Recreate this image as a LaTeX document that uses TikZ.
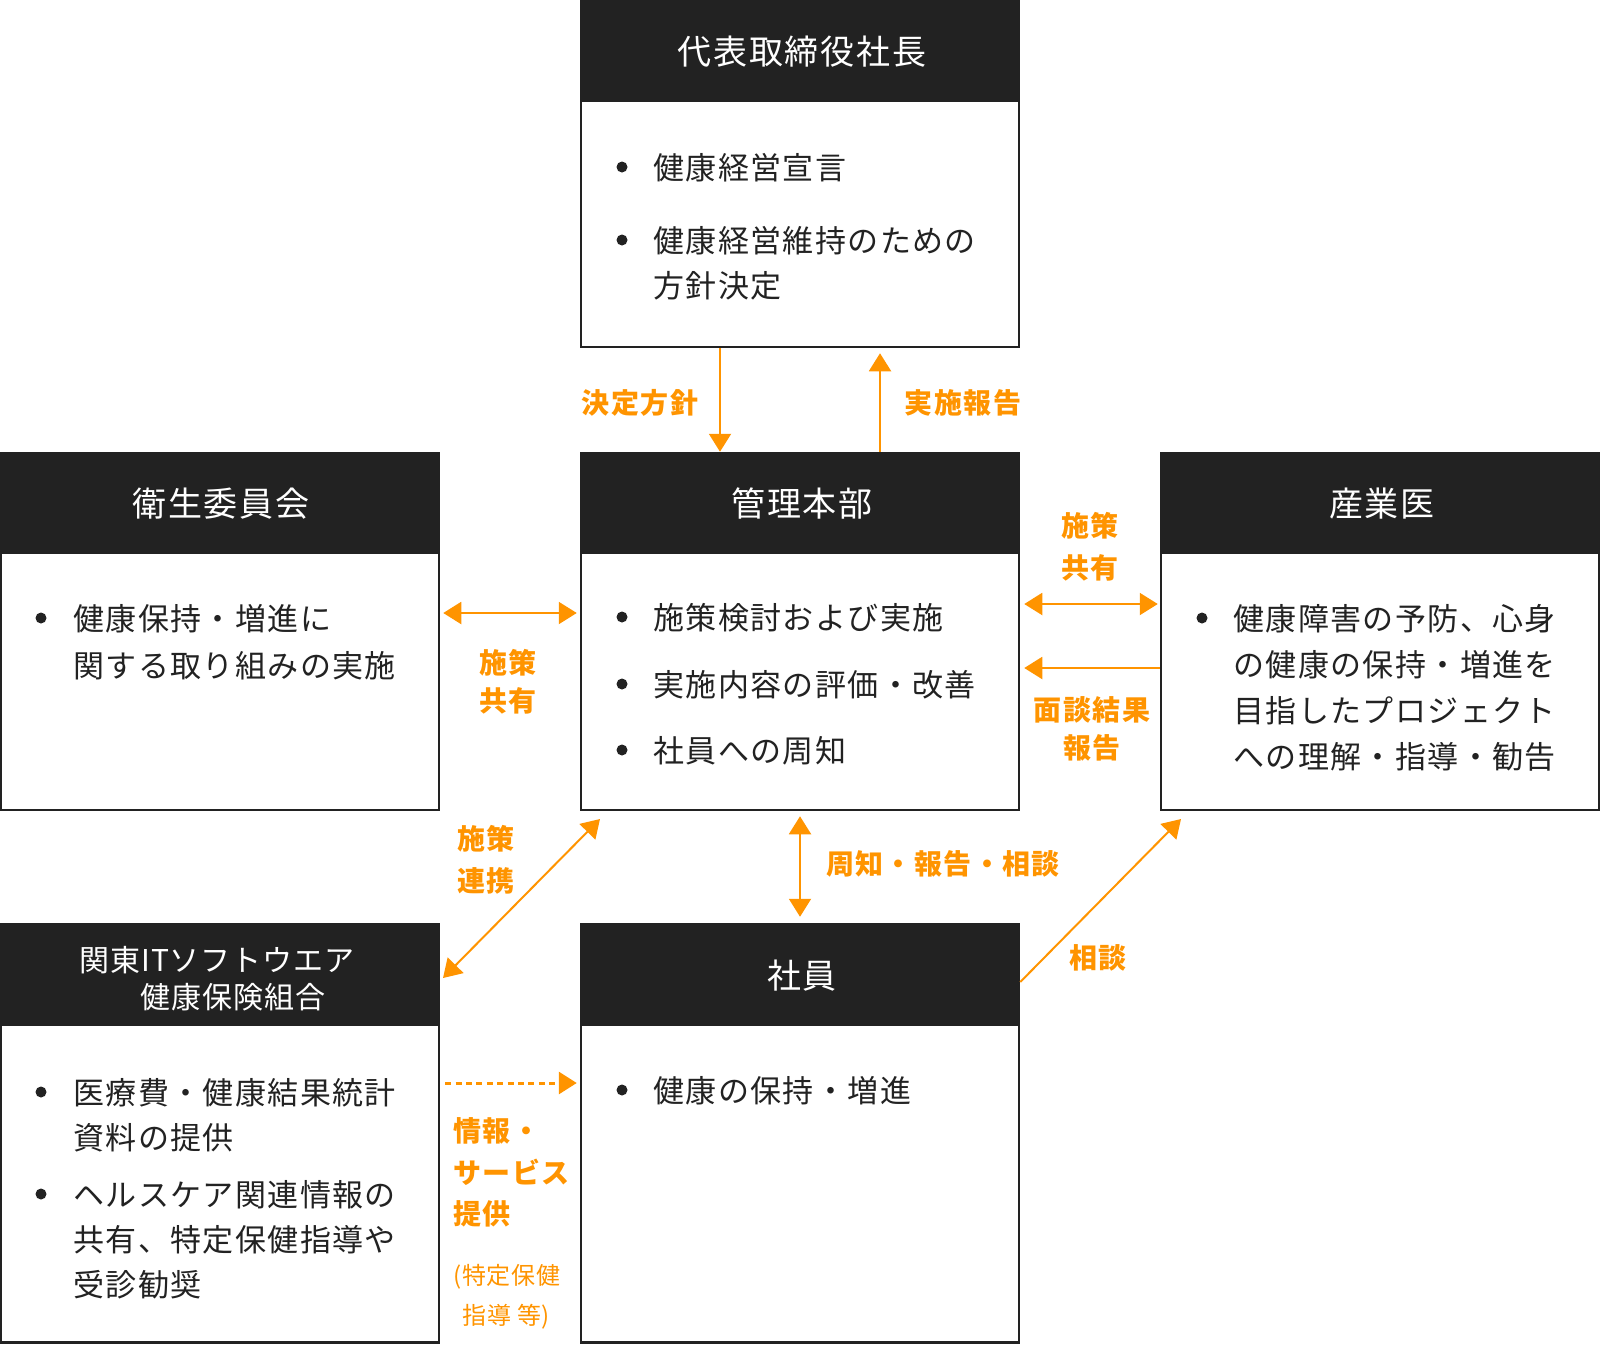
\documentclass[tikz,border=0pt]{standalone}
\usepackage{fontspec}
\setmainfont{Noto Sans CJK JP}
\newfontfamily\bodyfont[LetterSpace=4.5]{Noto Sans CJK JP}
\newfontfamily\hfont[LetterSpace=5]{Noto Sans CJK JP}
\newfontfamily\hsfont[LetterSpace=3]{Noto Sans CJK JP}
\newfontfamily\lblfont[LetterSpace=5]{Noto Sans CJK JP}
\newfontfamily\smfont[LetterSpace=3]{Noto Sans CJK JP}
\usetikzlibrary{arrows.meta,fit}
\definecolor{ink}{HTML}{222222}
\definecolor{org}{HTML}{FF9400}
\begin{document}
\begin{tikzpicture}[x=0.5pt,y=-0.5pt,
  box/.style={draw=ink, line width=1.25pt, fill=white, inner sep=0pt},
  hdr/.style={fill=ink, draw=ink, line width=1.25pt, inner sep=0pt},
  ttl/.style={text=white, font=\hfont\fontsize{17pt}{20pt}\selectfont, inner sep=0pt, anchor=base},
  ttls/.style={text=white, font=\hsfont\fontsize{15pt}{18pt}\selectfont, inner sep=0pt, anchor=base},
  txt/.style={text=ink, font=\bodyfont\fontsize{15.5pt}{18pt}\selectfont, inner sep=0pt, anchor=base west},
  dot/.style={circle, fill=ink, inner sep=0pt, minimum size=5.5pt},
  lbl/.style={text=org, font=\lblfont\bfseries\fontsize{14pt}{18pt}\selectfont, inner sep=0pt, anchor=base},
  lblw/.style={lbl, anchor=base west},
  sml/.style={text=org, font=\smfont\fontsize{12pt}{14pt}\selectfont, inner sep=0pt, anchor=base west},
  arr/.style={draw=org, line width=1pt, -{Triangle[length=9pt,width=11pt]}},
  darr/.style={draw=org, line width=1pt, {Triangle[length=9pt,width=11pt]}-{Triangle[length=9pt,width=11pt]}},
]
\useasboundingbox (0,0) rectangle (1600,1344);

% ---------- boxes ----------
\node[box, fit={(581,1.2) (1019,347)}] (top) {};
\node[hdr, fit={(581,1.2) (1019,101)}] (topH) {};
\node[box, fit={(581,453) (1019,810)}] (kanri) {};
\node[hdr, fit={(581,453) (1019,553)}] (kanriH) {};
\node[box, fit={(1.2,453) (439,810)}] (eisei) {};
\node[hdr, fit={(1.2,453) (439,553)}] (eiseiH) {};
\node[box, fit={(1161,453) (1598.8,810)}] (sangyo) {};
\node[hdr, fit={(1161,453) (1598.8,553)}] (sangyoH) {};
\node[box, fit={(1.2,924) (439,1342.5)}] (kenpo) {};
\node[hdr, fit={(1.2,924) (439,1025)}] (kenpoH) {};
\node[box, fit={(581,924) (1019,1342.5)}] (shain) {};
\node[hdr, fit={(581,924) (1019,1025)}] (shainH) {};

% ---------- titles ----------
\node[ttl] (tTop) at (802,64) {代表取締役社長};
\node[ttl] (tKanri) at (802,516) {管理本部};
\node[ttl] (tEisei) at (221,516) {衛生委員会};
\node[ttl] (tSangyo) at (1382,516) {産業医};
\node[ttl] (tShain) at (802,988) {社員};
\node[ttls] (tKenpo1) at (217,971) {関東ITソフトウエア};
\node[ttls] (tKenpo2) at (233,1008) {健康保険組合};

% ---------- top box text ----------
\node[dot] (dT1) at (622,167) {};
\node[txt] (lT1) at (653,179) {健康経営宣言};
\node[dot] (dT2) at (622,240) {};
\node[txt] (lT2) at (653,252) {健康経営維持のための};
\node[txt] (lT3) at (653,297) {方針決定};

% ---------- kanri text ----------
\node[dot] (dK1) at (622,617) {};
\node[txt] (lK1) at (653,629) {施策検討および実施};
\node[dot] (dK2) at (622,684) {};
\node[txt] (lK2) at (653,696) {実施内容の評価・改善};
\node[dot] (dK3) at (622,750) {};
\node[txt] (lK3) at (653,762) {社員への周知};

% ---------- eisei text ----------
\node[dot] (dE1) at (41,618) {};
\node[txt] (lE1) at (73,630) {健康保持・増進に};
\node[txt] (lE2) at (73,677) {関する取り組みの実施};

% ---------- sangyo text ----------
\node[dot] (dS1) at (1202,618) {};
\node[txt] (lS1) at (1233,630) {健康障害の予防、心身};
\node[txt] (lS2) at (1233,676) {の健康の保持・増進を};
\node[txt] (lS3) at (1233,722) {目指したプロジェクト};
\node[txt] (lS4) at (1233,768) {への理解・指導・勧告};

% ---------- kenpo text ----------
\node[dot] (dP1) at (41,1092) {};
\node[txt] (lP1) at (73,1104) {医療費・健康結果統計};
\node[txt] (lP2) at (73,1149) {資料の提供};
\node[dot] (dP2) at (41,1194) {};
\node[txt] (lP3) at (73,1206) {ヘルスケア関連情報の};
\node[txt] (lP4) at (73,1251) {共有、特定保健指導や};
\node[txt] (lP5) at (73,1296) {受診勧奨};

% ---------- shain text ----------
\node[dot] (dSh1) at (622,1090) {};
\node[txt] (lSh1) at (653,1102) {健康の保持・増進};

% ---------- connectors ----------
\coordinate (xa) at (720,0);
\coordinate (xb) at (880,0);
\coordinate (ya) at (0,604);
\coordinate (yb) at (0,668);
\coordinate (yc) at (0,613);
\coordinate (yd) at (0,1083);
\coordinate (ye) at (0,982);
\coordinate (c1) at (600,819);
\coordinate (c2) at (443,978);
\coordinate (c3) at (1181,819);

\draw[arr] (top.south -| xa) -- (kanriH.north -| xa);
\draw[arr, shorten >=2.5pt] (kanriH.north -| xb) -- (top.south -| xb);
\draw[darr, shorten <=2pt, shorten >=1pt] (kanri.east |- ya) -- (sangyo.west |- ya);
\draw[arr, shorten >=2pt] (sangyo.west |- yb) -- (kanri.east |- yb);
\draw[darr, shorten <=1.5pt, shorten >=1.5pt] (eisei.east |- yc) -- (kanri.west |- yc);
\draw[darr] (c1) -- (c2);
\draw[darr, shorten <=2.5pt, shorten >=3pt] (kanri.south) -- (shainH.north);
\draw[arr] (shainH.east |- ye) -- (c3);
\draw[org, line width=1.5pt, dash pattern=on 3pt off 2.2pt, -{Triangle[length=9pt,width=11pt]}, shorten <=2.5pt, shorten >=1.5pt] (kenpo.east |- yd) -- (shain.west |- yd);

% ---------- labels ----------
\node[lbl] (L1) at (640,413) {決定方針};
\node[lbl] (L2) at (963,413) {実施報告};
\node[lbl] (L3a) at (1090,536) {施策};
\node[lbl] (L3b) at (1090,578) {共有};
\node[lbl] (L4a) at (1092,720) {面談結果};
\node[lbl] (L4b) at (1092,758) {報告};
\node[lbl] (L5a) at (508,673) {施策};
\node[lbl] (L5b) at (508,711) {共有};
\node[lbl] (L6a) at (486,849) {施策};
\node[lbl] (L6b) at (486,891) {連携};
\node[lbl] (L7) at (943,874) {周知・報告・相談};
\node[lbl] (L8) at (1098,968) {相談};
\node[lblw] (L9a) at (453,1141) {情報・};
\node[lblw] (L9b) at (453,1183) {サービス};
\node[lblw] (L9c) at (453,1224) {提供};
\node[sml] (L10a) at (453,1284) {(特定保健};
\node[sml] (L10b) at (462,1324) {指導 等)};
\end{tikzpicture}
\end{document}
